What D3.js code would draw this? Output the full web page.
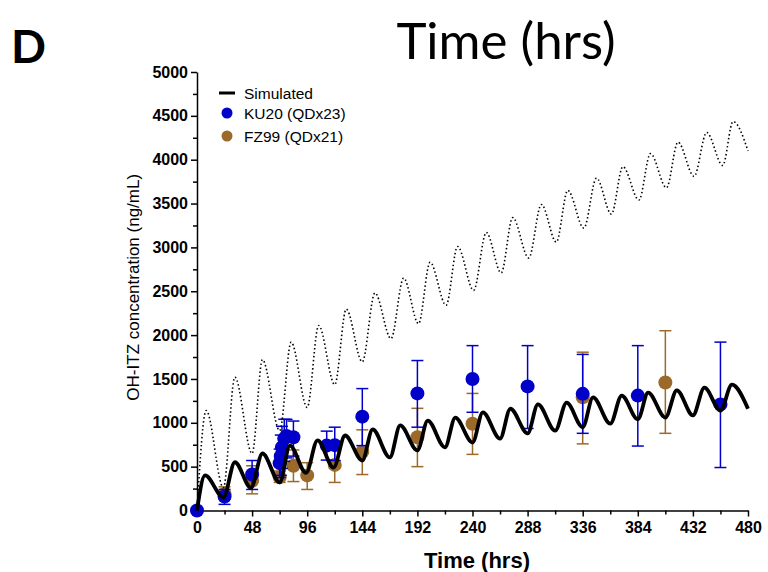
<!DOCTYPE html>
<html>
<head>
<meta charset="utf-8">
<script src="https://cdn.jsdelivr.net/npm/d3@7"></script>
<style>
body { margin: 0; background: #fff; }
.axis path, .axis line { stroke: #000; stroke-width: 1.5px; }
.axis text { font-family: "Liberation Sans", Arial, sans-serif; font-weight: bold; font-size: 16px; fill: #000; }
</style>
</head>
<body>
<script>
// simulated profiles: [time (h), conc (ng/mL)] at troughs and peaks
var simSolid = [[0,0],[7,400],[23,150],[33,550],[47,260],[57,650],[72,320],[81,740],[95,430],[105,800],
  [119,490],[129,855],[144,570],[153,925],[168,605],[177,970],[192,685],[201,1025],[216,720],[225,1060],
  [240,775],[249,1120],[264,820],[273,1160],[288,880],[297,1210],[312,910],[322,1230],[336,950],[345,1290],
  [360,990],[370,1310],[384,1040],[393,1345],[408,1060],[418,1370],[432,1085],[442,1400],[456,1140],[466,1435],[480,1160]];

var simDotted = [[0,0],[8,1140],[23,260],[33,1520],[48,650],[57,1720],[72,910],[82,1920],[96,1175],[106,2110],
  [120,1435],[130,2295],[144,1695],[155,2480],[169,1960],[180,2650],[193,2130],[203,2830],[217,2340],[227,3010],
  [241,2510],[252,3170],[265,2710],[275,3340],[289,2880],[300,3490],[313,3060],[323,3650],[337,3220],[348,3790],
  [361,3380],[371,3920],[385,3540],[395,4070],[409,3680],[419,4200],[433,3810],[444,4310],[458,3935],[467,4435],[480,4100]];

// KU20 (QDx23) observed: time, mean, lower, upper
var kuTime = [0, 24, 48, 72, 73, 74, 76, 78, 84, 113, 120, 144, 192, 240, 288, 336, 384, 456];
var kuConc = [0, 160, 410, 540, 620, 720, 820, 850, 835, 740, 745, 1070, 1335, 1500, 1415, 1330, 1310, 1210];
var kuLow  = [0, 70, 240, 375, 400, 480, 560, 600, 620, 575, 570, 740, 950, 1120, 935, 880, 735, 490];
var kuHigh = [0, 240, 570, 700, 860, 960, 1040, 1040, 1020, 905, 950, 1390, 1710, 1880, 1880, 1780, 1880, 1920];

// FZ99 (QDx21) observed
var fzTime = [24, 48, 72, 84, 96, 120, 144, 192, 240, 336, 408];
var fzConc = [190, 340, 380, 510, 400, 520, 670, 835, 990, 1290, 1460];
var fzLow  = [130, 190, 320, 330, 240, 320, 410, 500, 640, 760, 880];
var fzHigh = [270, 510, 450, 690, 545, 705, 920, 1165, 1335, 1805, 2050];

var xTicks = d3.range(0, 481, 48);
var yTicks = d3.range(0, 5001, 500);

var blue = "#0000c8", brown = "#9b6a2a";

var margin = {top: 72, left: 197}, width = 551, height = 438.5;

var svg = d3.select("body").append("svg").attr("width", 768).attr("height", 572);

svg.append("text").attr("x", 11).attr("y", 63)
  .style("font-family", "Lato, 'Open Sans', sans-serif").style("font-weight", "bold").style("font-size", "46px")
  .text("D");
svg.append("text").attr("x", 506).attr("y", 59).attr("text-anchor", "middle")
  .style("font-family", "Lato, 'Open Sans', sans-serif").style("font-size", "51px")
  .text("Time (hrs)");

var x = d3.scaleLinear().domain([0, 480]).range([0, width]);
var y = d3.scaleLinear().domain([0, 5000]).range([height, 0]);

var main = svg.append("g").attr("transform", "translate(" + margin.left + "," + margin.top + ")");

main.append("g").attr("class", "axis").attr("transform", "translate(0," + height + ")")
  .call(d3.axisBottom(x).tickValues(d3.range(24, 480, 48)).tickSize(4).tickFormat(""))
  .select(".domain").remove();
main.append("g").attr("class", "axis").attr("transform", "translate(0," + height + ")")
  .call(d3.axisBottom(x).tickValues(xTicks).tickSize(6).tickSizeOuter(0).tickPadding(5));

main.append("g").attr("class", "axis")
  .call(d3.axisLeft(y).tickValues(d3.range(250, 5000, 500)).tickSize(4).tickFormat(""))
  .select(".domain").remove();
main.append("g").attr("class", "axis")
  .call(d3.axisLeft(y).tickValues(yTicks).tickFormat(d3.format("d")).tickSize(6).tickSizeOuter(0).tickPadding(3));

svg.append("text").attr("transform", "translate(139," + (margin.top + height / 2 - 4) + ") rotate(-90)")
  .attr("text-anchor", "middle")
  .style("font-family", "'Liberation Sans', Arial, sans-serif").style("font-size", "17px")
  .text("OH-ITZ concentration (ng/mL)");
svg.append("text").attr("x", 477).attr("y", 568).attr("text-anchor", "middle")
  .style("font-family", "'Liberation Sans', Arial, sans-serif").style("font-weight", "bold").style("font-size", "22px")
  .text("Time (hrs)");

function drawObs(times, conc, lo, hi, color) {
  var g = main.append("g");
  var idx = d3.range(times.length);
  var eb = g.selectAll(".eb").data(idx.filter(function (i) { return hi[i] > lo[i]; })).enter().append("g")
    .attr("stroke", color).attr("stroke-width", 1.5);
  eb.append("line").attr("x1", function (i) { return x(times[i]); }).attr("x2", function (i) { return x(times[i]); })
    .attr("y1", function (i) { return y(lo[i]); }).attr("y2", function (i) { return y(hi[i]); });
  [lo, hi].forEach(function (arr) {
    eb.append("line").attr("x1", function (i) { return x(times[i]) - 6; }).attr("x2", function (i) { return x(times[i]) + 6; })
      .attr("y1", function (i) { return y(arr[i]); }).attr("y2", function (i) { return y(arr[i]); });
  });
  g.selectAll("circle").data(idx).enter().append("circle")
    .attr("cx", function (i) { return x(times[i]); })
    .attr("cy", function (i) { return y(conc[i]); })
    .attr("r", 7).attr("fill", color);
}

drawObs(fzTime, fzConc, fzLow, fzHigh, brown);
drawObs(kuTime, kuConc, kuLow, kuHigh, blue);

var line = d3.line().x(function (d) { return x(d[0]); }).y(function (d) { return y(d[1]); }).curve(d3.curveMonotoneX);

main.append("path").datum(simDotted).attr("d", line).attr("fill", "none")
  .attr("stroke", "#000").attr("stroke-width", 1.6).attr("stroke-dasharray", "1.5,2.5");
main.append("path").datum(simSolid).attr("d", line).attr("fill", "none")
  .attr("stroke", "#000").attr("stroke-width", 3.8).attr("stroke-linejoin", "round");

// legend
var leg = svg.append("g").style("font-family", "'Liberation Sans', Arial, sans-serif").style("font-size", "15.5px");
leg.append("line").attr("x1", 219).attr("x2", 235).attr("y1", 93).attr("y2", 93).attr("stroke", "#000").attr("stroke-width", 3);
leg.append("text").attr("x", 244).attr("y", 99).text("Simulated");
leg.append("circle").attr("cx", 227).attr("cy", 113).attr("r", 5.5).attr("fill", blue);
leg.append("text").attr("x", 244).attr("y", 119).text("KU20 (QDx23)");
leg.append("circle").attr("cx", 227).attr("cy", 136).attr("r", 5.5).attr("fill", brown);
leg.append("text").attr("x", 244).attr("y", 142).text("FZ99 (QDx21)");
</script>
</body>
</html>
